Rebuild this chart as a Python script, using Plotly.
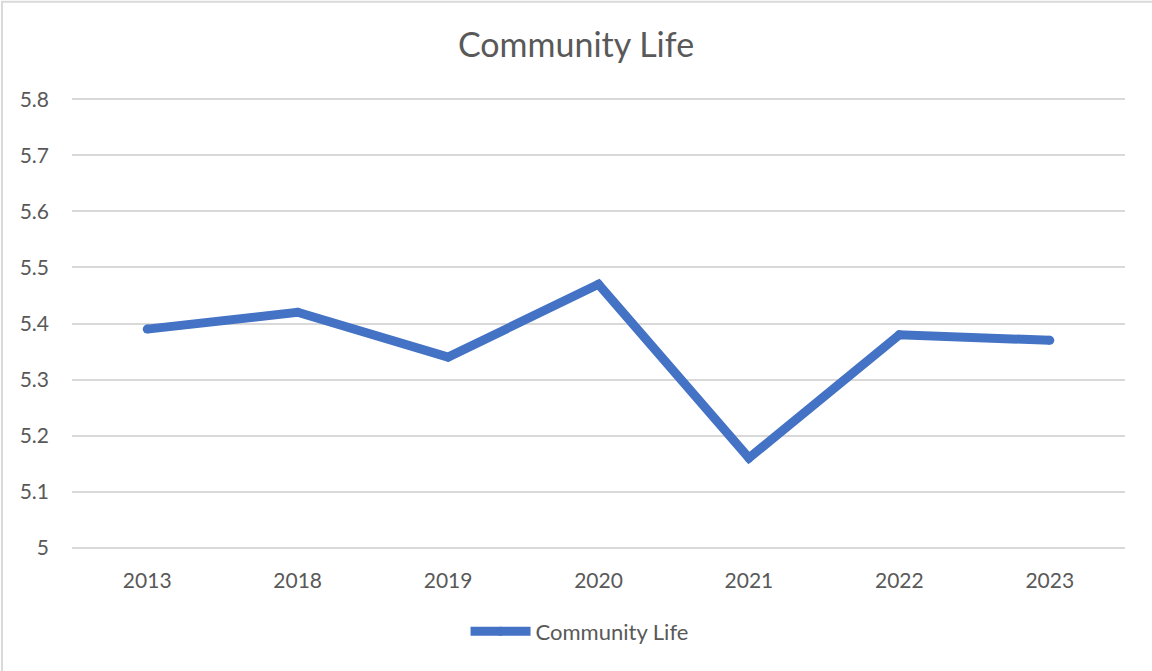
import plotly.graph_objects as go

years = ["2013", "2018", "2019", "2020", "2021", "2022", "2023"]
community_life = [5.39, 5.42, 5.34, 5.47, 5.16, 5.38, 5.37]

LINE_COLOR = "#4472C4"
TEXT_COLOR = "#595959"
GRID_COLOR = "#D9D9D9"
FONT = "Lato, 'Open Sans', sans-serif"

fig = go.Figure()
fig.add_trace(go.Scatter(
    x=years, y=community_life,
    name="Community Life",
    mode="lines+markers",
    line=dict(color=LINE_COLOR, width=9),
    marker=dict(color=LINE_COLOR, size=9, line=dict(width=0)),
))

# outer chart frame (light grey, left and top visible)
fig.add_shape(type="rect", xref="paper", yref="paper",
              x0=-0.0665, x1=1.05, y0=-0.5, y1=1.21,
              line=dict(color=GRID_COLOR, width=2), layer="below")

fig.update_layout(
    width=1152, height=671,
    margin=dict(l=72, r=27, t=97, b=121),
    paper_bgcolor="white",
    plot_bgcolor="white",
    font=dict(family=FONT, color=TEXT_COLOR, size=21),
    title=dict(text="Community Life", x=0.5, xanchor="center",
               y=0.933, yanchor="middle",
               font=dict(family=FONT, size=34, color=TEXT_COLOR)),
    showlegend=True,
    legend=dict(orientation="h", x=0.482, xanchor="center", y=-0.18, yanchor="middle",
                font=dict(size=22, color=TEXT_COLOR), itemwidth=60),
    xaxis=dict(type="category", range=[-0.5, 6.5], showgrid=False, showline=False,
               zeroline=False, ticks="", ticklabelstandoff=16,
               tickfont=dict(size=21, color=TEXT_COLOR)),
    yaxis=dict(range=[4.996, 5.804], dtick=0.1, tick0=5, showgrid=True, gridcolor=GRID_COLOR,
               gridwidth=1.5, zeroline=False, showline=False, ticks="",
               ticklabelstandoff=22, tickfont=dict(size=21, color=TEXT_COLOR)),
)

fig.write_html("out.html", config={"displayModeBar": False},
               post_script="document.body.style.margin='0';")
